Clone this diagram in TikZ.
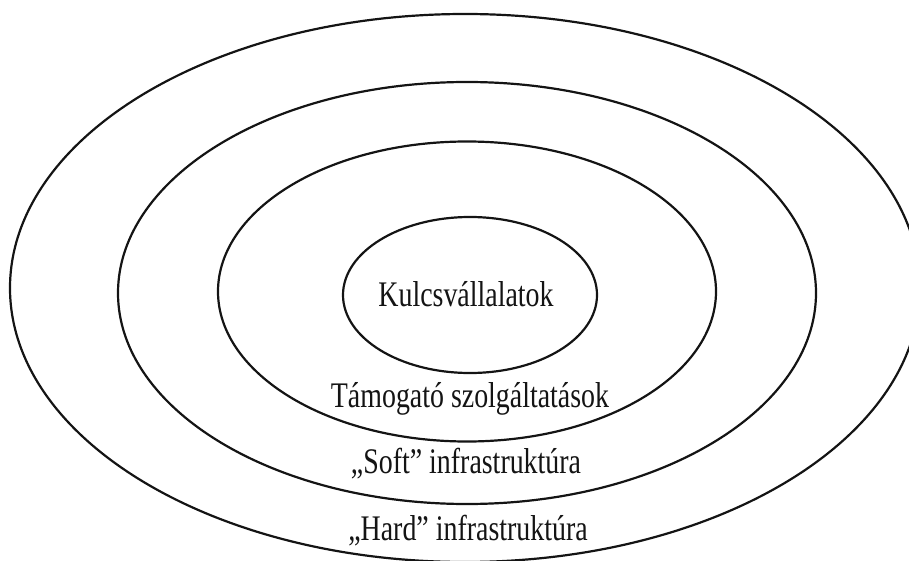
\documentclass[tikz,border=0pt]{standalone}
\usepackage{fontspec}
\usetikzlibrary{shapes.geometric}
\newfontfamily\lblfont[FakeStretch=0.775]{Liberation Serif}
\begin{document}
\begin{tikzpicture}[x=1pt,y=-1pt,
  ring/.style={draw=black!92, line width=2.2pt, ellipse, inner sep=0pt},
  lbl/.style={anchor=base, inner sep=0pt, text=black!92, font=\lblfont\fontsize{36}{40}\selectfont}]
\useasboundingbox (0,0) rectangle (909,561);
\clip (0,0) rectangle (909,561);
% nested rings, outermost first
\node[ring, minimum width=910pt, minimum height=548pt] (hard) at (465,288) {};
\node[ring, minimum width=698pt, minimum height=422pt] (soft) at (467,293) {};
\node[ring, minimum width=498pt, minimum height=300pt] (supp) at (467,291.5) {};
\node[ring, minimum width=254pt, minimum height=156pt] (core) at (470,295) {};
% labels
\node[lbl] (tcore) at (466,306) {Kulcsvállalatok};
\node[lbl] (tsupp) at (470,407) {Támogató szolgáltatások};
\node[lbl] (tsoft) at (466,473) {„Soft” infrastruktúra};
\node[lbl] (thard) at (468,540) {„Hard” infrastruktúra};
\end{tikzpicture}
\end{document}
